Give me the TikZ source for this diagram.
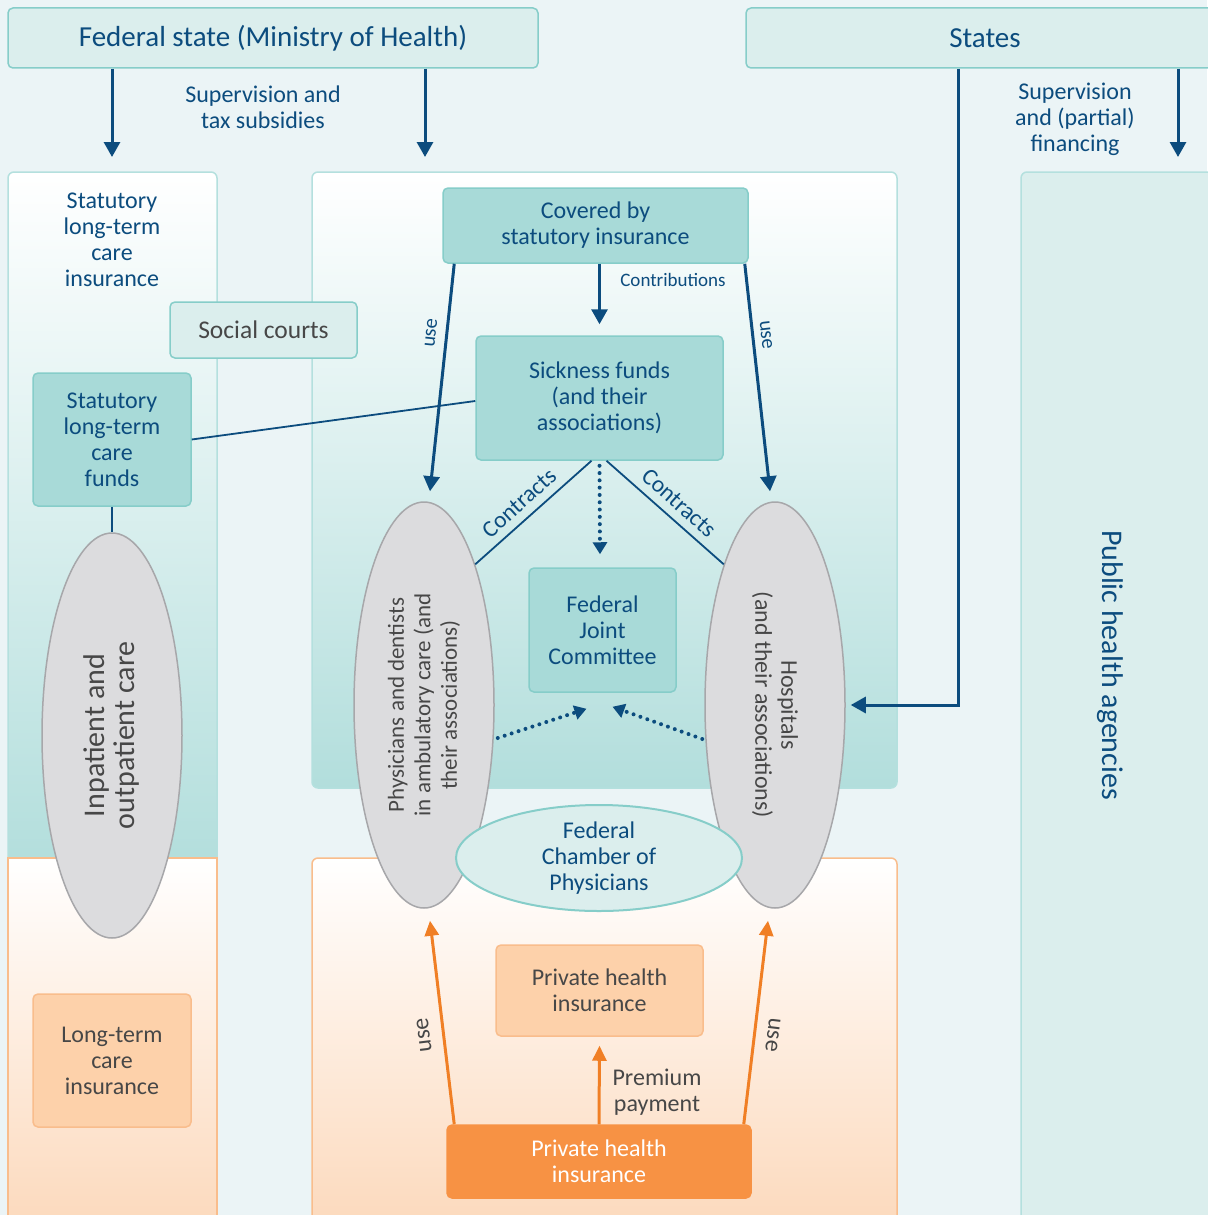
\documentclass[tikz,border=0pt]{standalone}
\usepackage{fontspec}
\setmainfont{Carlito}
\usetikzlibrary{arrows.meta,shapes.geometric,calc}
\definecolor{bg}{HTML}{EBF4F6}
\definecolor{dblue}{HTML}{0C4C7E}
\definecolor{tealF}{HTML}{A8DAD8}
\definecolor{tealD}{HTML}{86CDC9}
\definecolor{tealL}{HTML}{DBEEED}
\definecolor{tealP}{HTML}{B2DEDC}
\definecolor{panelB}{HTML}{B4E0DE}
\definecolor{grayF}{HTML}{DCDCDE}
\definecolor{grayD}{HTML}{A7A7AA}
\definecolor{txtG}{HTML}{474747}
\definecolor{orD}{HTML}{F79244}
\definecolor{orL}{HTML}{FDD1AA}
\definecolor{orB}{HTML}{F9BD8C}
\definecolor{orP}{HTML}{FCD9BC}
\definecolor{orA}{HTML}{F07F25}
\begin{document}
\begin{tikzpicture}[x=1pt,y=-1pt,
 bfont/.style={font=\fontsize{24}{26}\selectfont},
 sfont/.style={font=\fontsize{19}{22}\selectfont},
 tfont/.style={font=\fontsize{29}{32}\selectfont},
 tbox/.style={draw=tealD, line width=1.5pt, rounded corners=5pt, fill=tealF, text=dblue, align=center, inner sep=0pt, bfont},
 lbox/.style={tbox, fill=tealL},
 obox/.style={draw=orB, line width=1.5pt, rounded corners=5pt, fill=orL, text=txtG, align=center, inner sep=0pt, bfont},
 gell/.style={ellipse, draw=grayD, line width=1.5pt, fill=grayF, inner sep=0pt},
 gtxt/.style={text=txtG, align=center, inner sep=0pt},
 btxt/.style={text=dblue, align=center, inner sep=0pt},
 arr/.style={draw=dblue, line width=3pt, -{Triangle[length=15pt,width=16pt]}},
 oarr/.style={draw=orA, line width=3pt, -{Triangle[length=15pt,width=14pt]}},
 thinln/.style={draw=dblue, line width=1.8pt},
 dotarr/.style={draw=dblue, line width=4pt, dash pattern=on 0pt off 7.3pt, line cap=round, -{Triangle[length=12pt,width=14pt]}},
]
\useasboundingbox (0,0) rectangle (1207,1215);
\fill[bg] (0,0) rectangle (1207,1215);
% panels
\shadedraw[top color=white, bottom color=tealP, draw=panelB, line width=1.5pt, rounded corners=6pt] (8,172) rectangle (217,870);
\shadedraw[top color=white, bottom color=orP, draw=orB, line width=1.5pt] (8,858) rectangle (217,1230);
\shadedraw[top color=white, bottom color=tealP, draw=panelB, line width=1.5pt, rounded corners=6pt] (312,172) rectangle (897,788);
\shadedraw[top color=white, bottom color=orP, draw=orB, line width=1.5pt, rounded corners=6pt] (312,858) rectangle (897,1230);
\filldraw[fill=tealL, draw=panelB, line width=1.5pt, rounded corners=6pt] (1021,172) rectangle (1230,1230);

% top boxes
\node[lbox, tfont, minimum width=530pt, minimum height=60pt] (fed) at (273,38) {Federal state (Ministry of Health)};
\node[lbox, tfont, minimum width=478pt, minimum height=60pt] (states) at (985,38) {States};
\coordinate (t1) at (112,157);
\coordinate (t2) at (425,157);
\coordinate (t3) at (1178,157);
\coordinate (sx) at (958,0);
\draw[arr] (fed.south -| t1) -- (t1);
\draw[arr] (fed.south -| t2) -- (t2);
\draw[arr] (states.south -| t3) -- (t3);
\node[btxt, bfont] (supfed) at (263,107) {Supervision and\\tax subsidies};
\node[btxt, bfont] (supst) at (1075,119) {Supervision\\and (partial)\\financing};

% left column
\node[btxt, bfont] (ltci) at (112,240) {Statutory\\long-term\\care\\insurance};
\node[lbox, text=txtG, font=\fontsize{25.5}{28}\selectfont, minimum width=187pt, minimum height=56pt] (soc) at (263.5,330) {Social courts};
\node[tbox, minimum width=158pt, minimum height=133pt] (funds) at (112,439.5) {Statutory\\long-term\\care\\funds};
\node[gell, minimum width=140pt, minimum height=405pt] (inp) at (112,735.5) {};
\node[gtxt, rotate=90, font=\fontsize{30}{30}\selectfont] (inptxt) at (inp.center) {Inpatient and\\outpatient care};
\node[obox, minimum width=158pt, minimum height=133pt] (ltc) at (112,1060.5) {Long-term\\care\\insurance};

% middle
\node[tbox, minimum width=305pt, minimum height=75pt] (cov) at (595.5,225.5) {Covered by\\statutory insurance};
\node[tbox, minimum width=247pt, minimum height=124pt] (sick) at (599.5,398) {Sickness funds\\(and their\\associations)};
\node[tbox, minimum width=147pt, minimum height=124pt] (fjc) at (602.5,630) {Federal\\Joint\\Committee};
\node[gell, minimum width=140pt, minimum height=406pt] (phys) at (424,705) {};
\node[gell, minimum width=140pt, minimum height=406pt] (hosp) at (775,705) {};
\node[gtxt, rotate=90, font=\fontsize{23}{26.5}\selectfont] (phystxt) at (phys.center) {Physicians and dentists\\in ambulatory care (and\\their associations)};
\node[gtxt, rotate=-90, font=\fontsize{24}{26}\selectfont] (hosptxt) at (hosp.center) {Hospitals\\(and their associations)};
\node[ellipse, draw=tealD, line width=2pt, fill=tealL, minimum width=286pt, minimum height=106pt, inner sep=0pt, text=dblue, align=center, bfont] (fcp) at (599,858) {Federal\\Chamber of\\Physicians};
\node[obox, minimum width=207pt, minimum height=91pt] (phl) at (599.5,990.5) {Private health\\insurance};
\node[obox, fill=orD, draw=orD, text=white, minimum width=304pt, minimum height=73pt] (phb) at (599,1161.5) {Private health\\insurance};

% right panel
\node[btxt, rotate=-90, font=\fontsize{30}{30}\selectfont] (pha) at (1110,665) {Public health agencies};

% connectors
\draw[thinln] (funds.east) -- ($(sick.west)+(0,3)$);
\draw[thinln] (funds.south) -- (inp.north);
\draw[arr, shorten >=11pt] (cov.south -| sick.north) -- (sick.north);
\node[btxt, sfont] (contr) at (673,280) {Contributions};
\draw[arr] ($(cov.south west)+(12,0)$) -- ($(phys.north)+(6,-10)$);
\draw[arr] ($(cov.south east)+(-4,0)$) -- ($(hosp.north)+(-5,-10)$);
\node[btxt, font=\fontsize{20.5}{22}\selectfont, rotate=84] (use1) at (431,333) {use};
\node[btxt, font=\fontsize{20.5}{22}\selectfont, rotate=-83.5] (use2) at (766,335) {use};
\draw[thinln] ($(sick.south)+(-8,0)$) -- (phys.70);
\draw[thinln] ($(sick.south)+(7,0)$) -- (hosp.110);
\node[btxt, font=\fontsize{23.5}{26}\selectfont, rotate=42] (ctr1) at (519,503) {Contracts};
\node[btxt, font=\fontsize{23.5}{26}\selectfont, rotate=-42] (ctr2) at (679,503) {Contracts};
\draw[dotarr] ($(sick.south)+(0,5)$) -- ($(fjc.north)+(-2.5,-13)$);
\draw[dotarr] ($(phys.east)+(3,33)$) -- ($(fjc.south)+(-16,16)$);
\draw[dotarr] ($(hosp.west)+(-2,34)$) -- ($(fjc.south)+(10,14)$);
\coordinate (s1) at (958,705);
\draw[arr] (states.south -| sx) -- (s1) -- ($(hosp.east)+(5,0)$);

% orange arrows
\draw[oarr] ($(phb.north west)+(8,0)$) -- ($(phys.south)+(6,12)$);
\draw[oarr] ($(phb.north east)+(-8,0)$) -- ($(hosp.south)+(-7,12)$);
\draw[oarr] (phb.north) -- ($(phl.south)+(0,9)$);
\node[gtxt, font=\fontsize{24}{26}\selectfont, rotate=97] (use3) at (424,1035) {use};
\node[gtxt, font=\fontsize{24}{26}\selectfont, rotate=-97] (use4) at (773,1035) {use};
\node[gtxt, bfont] (prem) at (657,1092) {Premium\\payment};
\end{tikzpicture}
\end{document}
